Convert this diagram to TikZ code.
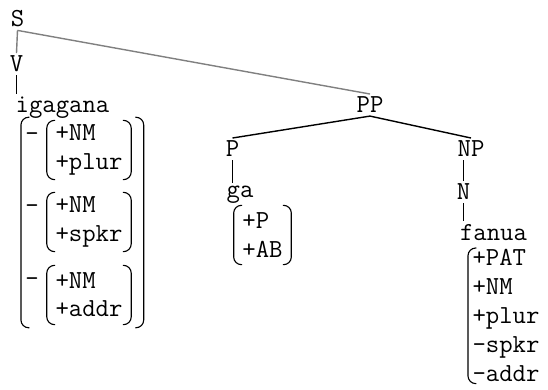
\documentclass[tikz,border=0pt]{standalone}
\usepackage{fontspec}
\usetikzlibrary{fit}

\newcommand\lbrk[1]{\draw[brk] ([xshift=6pt]#1.north west)--(#1.north west)--(#1.south west)--([xshift=6pt]#1.south west);}
\newcommand\rbrk[1]{\draw[brk] ([xshift=-6pt]#1.north east)--(#1.north east)--(#1.south east)--([xshift=-6pt]#1.south east);}

\begin{document}
\begin{tikzpicture}[font=\ttfamily\fontsize{18.5}{20}\selectfont,
 cat/.style={inner sep=2pt,anchor=base},
 bundle/.style={align=left,inner xsep=6pt,inner ysep=2pt,minimum height=1.47cm},
 brk/.style={line width=.8pt,rounded corners=5.5pt},
 branch/.style={line width=1pt}]
\useasboundingbox (0,0) rectangle (13.7,9.75);
\clip (0,0) rectangle (13.7,9.75);
% tree
\node[cat] (S) at (0.4375,9.075) {S};
\node[cat] (V) at (0.4125,7.95) {V};
\node[cat] (ig) at (1.5625,6.925) {igagana};
\node[cat] (PP) at (9.25,6.925) {PP};
\node[cat] (P) at (5.8125,5.825) {P};
\node[cat] (ga) at (6.0,4.8) {ga};
\node[cat] (NP) at (11.775,5.825) {NP};
\node[cat] (N) at (11.5875,4.75) {N};
\node[cat] (fan) at (12.3375,3.74) {fanua};
\draw[branch,gray] (S.south)--(V.north);
\draw[branch,gray] (S.south)--(PP.north);
\draw[branch] (V.south)--(V.south |- ig.north);
\draw[branch] (PP.south)--(P.north);
\draw[branch] (PP.south)--(NP.north);
\draw[branch] (P.south)--(P.south |- ga.north);
\draw[branch] (N.north)--(N.north |- NP.south);
\draw[branch] (N.south)--(N.south |- fan.north);
% features of igagana
\node[bundle] (f1) at (2.225,6.0) {+NM\\+plur};
\node[bundle] (f2) at (2.225,4.2) {+NM\\+spkr};
\node[bundle] (f3) at (2.225,2.375) {+NM\\+addr};
\node[inner sep=0pt,anchor=base] (m1) at (0.8,6.2) {-};
\node[inner sep=0pt,anchor=base] (m2) at (0.8,4.4125) {-};
\node[inner sep=0pt,anchor=base] (m3) at (0.8,2.5875) {-};
\node[fit=(m1)(f1)(f3),inner xsep=0.2cm,inner ysep=2pt,xshift=3pt] (igf) {};
\foreach \f in {f1,f2,f3,igf}{\lbrk{\f}\rbrk{\f}}
% features of ga
\node[bundle] (gaf) at (6.5625,3.875) {+P\\+AB};
\lbrk{gaf}\rbrk{gaf}
% features of fanua
\node[align=left,inner xsep=3pt,inner ysep=1pt,anchor=north west,
 font=\ttfamily\fontsize{18.5}{20.6}\selectfont] (fanf) at (11.7,3.55)
 {+PAT\\+NM\\+plur\\-spkr\\-addr};
\lbrk{fanf}
\end{tikzpicture}
\end{document}
